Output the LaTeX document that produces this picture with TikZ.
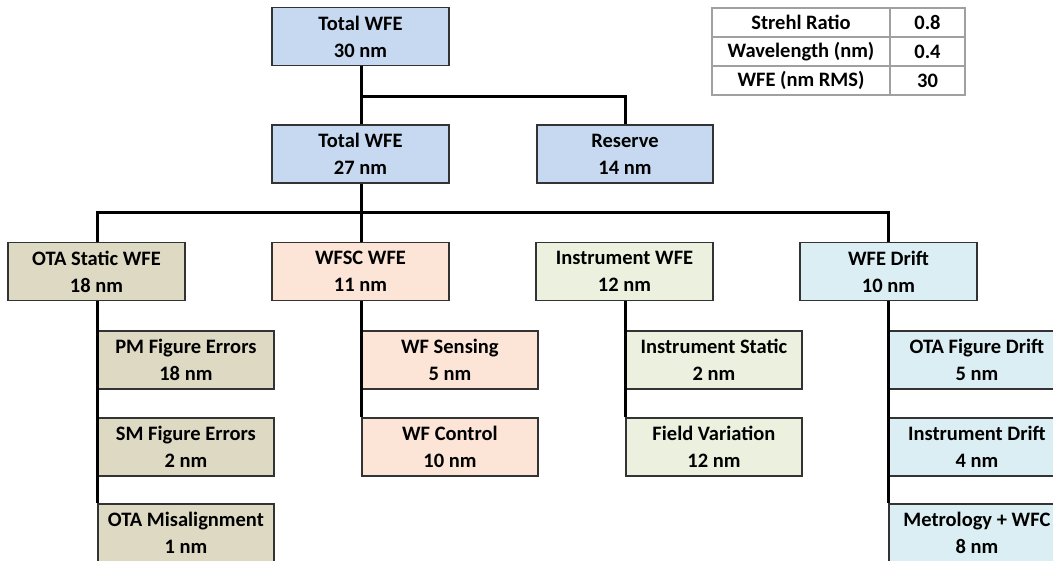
\documentclass[tikz,border=0pt]{standalone}
\usepackage{fontspec}
\setmainfont{Carlito}
\definecolor{topblue}{HTML}{C6D9F0}
\definecolor{tanc}{HTML}{DDD9C3}
\definecolor{peach}{HTML}{FCE4D6}
\definecolor{olivec}{HTML}{EBF1DE}
\definecolor{aquac}{HTML}{DAEEF3}
\definecolor{gridc}{HTML}{A0A0A0}
\tikzset{
  box/.style={draw=black!80, line width=1.8pt, minimum width=177pt, minimum height=58pt,
    inner sep=0pt, align=center, font=\bfseries\fontsize{20.5}{27}\selectfont},
  subbox/.style={box, minimum width=176pt, anchor=north west},
  conn/.style={line width=3pt, black},
  cell/.style={inner sep=0pt, font=\bfseries\fontsize{20.5}{24}\selectfont},
  grid line/.style={draw=gridc, line width=1.2pt}
}
\begin{document}
\begin{tikzpicture}[x=1pt,y=-1pt]
\useasboundingbox (0,0) rectangle (1053,561);
\clip (0,0) rectangle (1053,561);
% level 0 / 1
\node[box, fill=topblue] (top) at (360.5,36.5) {Total WFE\\30 nm};
\node[box, fill=topblue] (t27) at (360.5,154) {Total WFE\\27 nm};
\node[box, fill=topblue, minimum width=176pt] (res) at (625,154) {Reserve\\14 nm};
% level 2
\node[box, fill=tanc] (ots) at (96.5,271.5) {OTA Static WFE\\18 nm};
\node[box, fill=peach] (wfsc) at (360.5,271.5) {WFSC WFE\\11 nm};
\node[box, fill=olivec] (inst) at (624.5,271.5) {Instrument WFE\\12 nm};
\node[box, fill=aquac] (drift) at (888.5,271.5) {WFE Drift\\10 nm};
% level 3
\node[subbox, fill=tanc] (pm) at (97,330) {PM Figure Errors\\18 nm};
\node[subbox, fill=tanc] (sm) at (97,417) {SM Figure Errors\\2 nm};
\node[subbox, fill=tanc] (mis) at (97,503) {OTA Misalignment\\1 nm};
\node[subbox, fill=peach] (wfs) at (361,330) {WF Sensing\\5 nm};
\node[subbox, fill=peach] (wfc) at (361,417) {WF Control\\10 nm};
\node[subbox, fill=olivec] (ist) at (625,330) {Instrument Static\\2 nm};
\node[subbox, fill=olivec] (fv) at (625,417) {Field Variation\\12 nm};
\node[subbox, fill=aquac] (otd) at (888,330) {OTA Figure Drift\\5 nm};
\node[subbox, fill=aquac] (ind) at (888,417) {Instrument Drift\\4 nm};
\node[subbox, fill=aquac] (met) at (888,503) {Metrology + WFC\\8 nm};
% connectors
\coordinate (j1) at (361,97);
\coordinate (j2) at (361,213);
\draw[conn] (top.south -| j1) -- (t27.north -| j1);
\draw[conn] (j1) -| (res.north);
\draw[conn] (t27.south -| j2) -- (j2);
\draw[conn] (ots.north -| pm.west) |- (j2) -| (drift.north -| otd.west);
\draw[conn] (j2) -- (wfsc.north -| j2);
\draw[conn] (inst.north -| ist.west) -- (inst.north -| ist.west |- j2);
\draw[conn] (ots.south -| pm.west) -- (mis.north west);
\draw[conn] (wfsc.south -| wfs.west) -- (wfc.north west);
\draw[conn] (inst.south -| ist.west) -- (fv.north west);
\draw[conn] (drift.south -| otd.west) -- (met.north west);
% table
\node[cell] (c11) at (801,22.5) {Strehl Ratio};
\node[cell] (c12) at (927.5,22.5) {0.8};
\node[cell] (c21) at (801,51.5) {Wavelength (nm)};
\node[cell] (c22) at (927.5,51.5) {0.4};
\node[cell] (c31) at (801,80.5) {WFE (nm RMS)};
\node[cell] (c32) at (927.5,80.5) {30};
\draw[grid line] (712,8) rectangle (965,95);
\draw[grid line] (712,37) -- (965,37);
\draw[grid line] (712,66) -- (965,66);
\draw[grid line] (890,8) -- (890,95);
\end{tikzpicture}
\end{document}
